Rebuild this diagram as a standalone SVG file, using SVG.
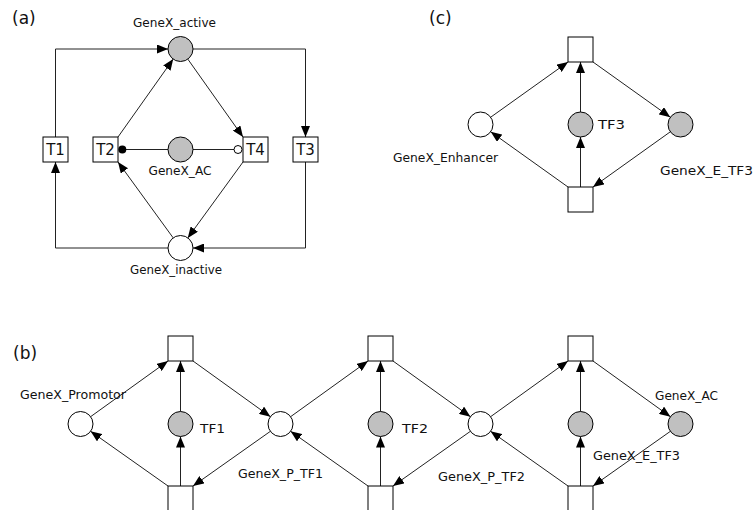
<svg xmlns="http://www.w3.org/2000/svg" width="754" height="510" viewBox="0 0 754 510">
<style>
.p{stroke:#000;stroke-width:1;fill:#fff}
.g{stroke:#000;stroke-width:1;fill:#c0c0c0}
.t{stroke:#000;stroke-width:1;fill:#fff}
.e{stroke:#222;stroke-width:1;fill:none}
.a{marker-end:url(#ah)}
text{font-family:"DejaVu Sans","Liberation Sans",sans-serif;fill:#111}
.lb{font-size:13px}
.tl{font-size:15px;text-anchor:middle}
.pn{font-size:17px}
</style>
<defs>
<marker id="ah" markerUnits="userSpaceOnUse" markerWidth="12" markerHeight="9" refX="11" refY="4.5" orient="auto">
<path d="M0,0 L11,4.5 L0,9 z" fill="#000"/>
</marker>
</defs>
<rect width="754" height="510" fill="#fff"/>

<text class="pn" x="12" y="24">(a)</text>
<text class="pn" x="429" y="24">(c)</text>
<text class="pn" x="13" y="359">(b)</text>

<g id="connectors">
<!-- panel a -->
<polyline class="e a" points="55.5,137 55.5,49 168,49"/>
<polyline class="e a" points="193,49 305.5,49 305.5,137"/>
<polyline class="e a" points="305.5,162 305.5,248 193,248"/>
<polyline class="e a" points="168,248 55.5,248 55.5,162"/>
<line class="e a" x1="118" y1="137" x2="173.2" y2="59.1"/>
<line class="e a" x1="187.8" y1="59.1" x2="243" y2="137"/>
<line class="e a" x1="243" y1="162" x2="187.8" y2="237.9"/>
<line class="e a" x1="173.2" y1="237.9" x2="118" y2="162"/>
<line class="e" x1="126" y1="149.5" x2="168" y2="149.5"/>
<line class="e" x1="193" y1="149.5" x2="234" y2="149.5"/>
<circle cx="122.3" cy="149.5" r="4" fill="#000"/>
<circle cx="238" cy="149.5" r="4" fill="#fff" stroke="#000" stroke-width="1"/>
<!-- panel c -->
<line class="e a" x1="490.7" y1="117.2" x2="568" y2="62"/>
<line class="e a" x1="580.5" y1="112" x2="580.5" y2="62"/>
<line class="e a" x1="593" y1="62" x2="670.3" y2="117.2"/>
<line class="e a" x1="670.3" y1="131.8" x2="593" y2="187"/>
<line class="e a" x1="568" y1="187" x2="490.7" y2="131.8"/>
<line class="e a" x1="580.5" y1="187" x2="580.5" y2="137"/>
<!-- panel b seg1 -->
<line class="e a" x1="90.6" y1="416.7" x2="168" y2="361"/>
<line class="e a" x1="180.5" y1="411.5" x2="180.5" y2="361"/>
<line class="e a" x1="193" y1="361" x2="270.4" y2="416.7"/>
<line class="e a" x1="270.4" y1="431.3" x2="193" y2="486"/>
<line class="e a" x1="168" y1="486" x2="90.6" y2="431.3"/>
<line class="e a" x1="180.5" y1="486" x2="180.5" y2="436.5"/>
<!-- seg2 -->
<line class="e a" x1="290.6" y1="416.7" x2="368" y2="361"/>
<line class="e a" x1="380.5" y1="411.5" x2="380.5" y2="361"/>
<line class="e a" x1="393" y1="361" x2="470.4" y2="416.7"/>
<line class="e a" x1="470.4" y1="431.3" x2="393" y2="486"/>
<line class="e a" x1="368" y1="486" x2="290.6" y2="431.3"/>
<line class="e a" x1="380.5" y1="486" x2="380.5" y2="436.5"/>
<!-- seg3 -->
<line class="e a" x1="490.6" y1="416.7" x2="568" y2="361"/>
<line class="e a" x1="580.5" y1="411.5" x2="580.5" y2="361"/>
<line class="e a" x1="593" y1="361" x2="670.4" y2="416.7"/>
<line class="e a" x1="670.4" y1="431.3" x2="593" y2="486"/>
<line class="e a" x1="568" y1="486" x2="490.6" y2="431.3"/>
<line class="e a" x1="580.5" y1="486" x2="580.5" y2="436.5"/>
</g>

<!-- panel a nodes -->
<g id="GeneX_active"><circle class="g" cx="180.5" cy="49" r="12.5"/><text class="lb" x="133" y="26.5" textLength="83" lengthAdjust="spacingAndGlyphs">GeneX_active</text></g>
<g id="GeneX_AC_a"><circle class="g" cx="180.5" cy="149.5" r="12.5"/><text class="lb" x="148.5" y="174.5" textLength="63" lengthAdjust="spacingAndGlyphs">GeneX_AC</text></g>
<g id="GeneX_inactive"><circle class="p" cx="180.5" cy="248" r="12.5"/><text class="lb" x="130" y="274" textLength="92" lengthAdjust="spacingAndGlyphs">GeneX_inactive</text></g>
<g id="T1"><rect class="t" x="43" y="137" width="25" height="25"/><text class="tl" x="55.5" y="155">T1</text></g>
<g id="T2"><rect class="t" x="93" y="137" width="25" height="25"/><text class="tl" x="105.5" y="155">T2</text></g>
<g id="T4"><rect class="t" x="243" y="137" width="25" height="25"/><text class="tl" x="255.5" y="155">T4</text></g>
<g id="T3"><rect class="t" x="293" y="137" width="25" height="25"/><text class="tl" x="305.5" y="155">T3</text></g>

<!-- panel c nodes -->
<g id="c_top"><rect class="t" x="568" y="37" width="25" height="25"/></g>
<g id="c_bottom"><rect class="t" x="568" y="187" width="25" height="25"/></g>
<g id="GeneX_Enhancer"><circle class="p" cx="480.5" cy="124.5" r="12.5"/><text class="lb" x="393" y="162" textLength="105" lengthAdjust="spacingAndGlyphs">GeneX_Enhancer</text></g>
<g id="TF3"><circle class="g" cx="580.5" cy="124.5" r="12.5"/><text class="lb" x="598" y="128.5" textLength="27" lengthAdjust="spacingAndGlyphs">TF3</text></g>
<g id="GeneX_E_TF3_c"><circle class="g" cx="680.5" cy="124.5" r="12.5"/><text class="lb" x="660" y="175" textLength="93" lengthAdjust="spacingAndGlyphs">GeneX_E_TF3</text></g>

<!-- panel b nodes -->
<g id="b_top1"><rect class="t" x="168" y="336" width="25" height="25"/></g>
<g id="b_top2"><rect class="t" x="368" y="336" width="25" height="25"/></g>
<g id="b_top3"><rect class="t" x="568" y="336" width="25" height="25"/></g>
<g id="b_bot1"><rect class="t" x="168" y="486" width="25" height="25"/></g>
<g id="b_bot2"><rect class="t" x="368" y="486" width="25" height="25"/></g>
<g id="b_bot3"><rect class="t" x="568" y="486" width="25" height="25"/></g>
<g id="GeneX_Promotor"><circle class="p" cx="80.5" cy="424" r="12.5"/><text class="lb" x="20" y="399" textLength="106" lengthAdjust="spacingAndGlyphs">GeneX_Promotor</text></g>
<g id="TF1"><circle class="g" cx="180.5" cy="424" r="12.5"/><text class="lb" x="200" y="433" textLength="25" lengthAdjust="spacingAndGlyphs">TF1</text></g>
<g id="GeneX_P_TF1"><circle class="p" cx="280.5" cy="424" r="12.5"/><text class="lb" x="238" y="478" textLength="85" lengthAdjust="spacingAndGlyphs">GeneX_P_TF1</text></g>
<g id="TF2"><circle class="g" cx="380.5" cy="424" r="12.5"/><text class="lb" x="402" y="433" textLength="26" lengthAdjust="spacingAndGlyphs">TF2</text></g>
<g id="GeneX_P_TF2"><circle class="p" cx="480.5" cy="424" r="12.5"/><text class="lb" x="438" y="481" textLength="87" lengthAdjust="spacingAndGlyphs">GeneX_P_TF2</text></g>
<g id="GeneX_E_TF3_b"><circle class="g" cx="580.5" cy="424" r="12.5"/><text class="lb" x="593" y="460" textLength="87" lengthAdjust="spacingAndGlyphs">GeneX_E_TF3</text></g>
<g id="GeneX_AC_b"><circle class="g" cx="680.5" cy="424" r="12.5"/><text class="lb" x="655" y="400" textLength="63" lengthAdjust="spacingAndGlyphs">GeneX_AC</text></g>
</svg>
